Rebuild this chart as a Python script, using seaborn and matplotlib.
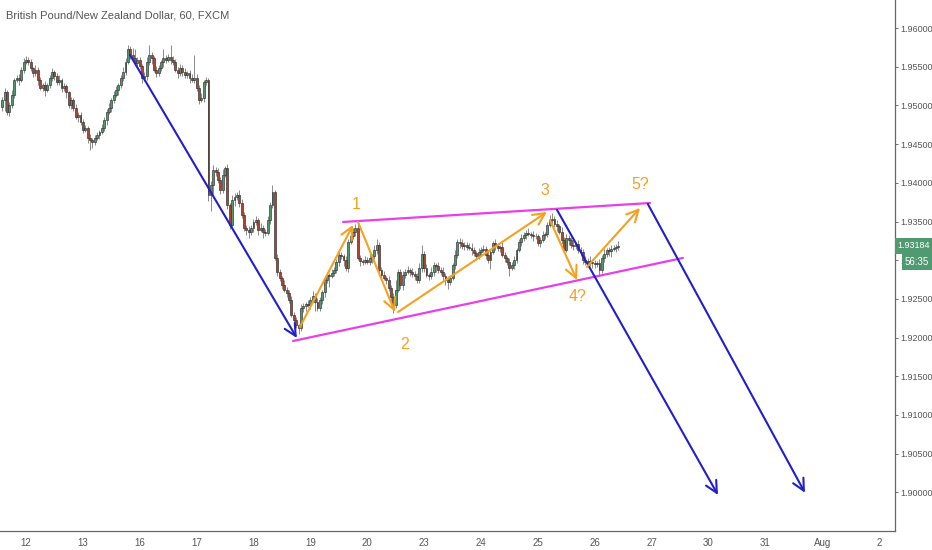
import numpy as np
import pandas as pd
import matplotlib
matplotlib.use('Agg')
import matplotlib.pyplot as plt
import matplotlib.transforms as mtransforms
import seaborn as sns

# hourly closes, GBP/NZD (FXCM)
pre_closes = [1.9507, 1.9517, 1.9492, 1.9500, 1.9514, 1.9533, 1.9535, 1.9533, 1.9546, 1.9556]
closes_12 = [1.9559, 1.9556, 1.9548, 1.9542, 1.9546, 1.9533, 1.9523, 1.9526, 1.9520, 1.9526, 1.9535, 1.9543,
             1.9538, 1.9530, 1.9533, 1.9523, 1.9525, 1.9517, 1.9500, 1.9507, 1.9497, 1.9485, 1.9488, 1.9479]
closes_13 = [1.9468, 1.9471, 1.9458, 1.9455, 1.9453, 1.9458, 1.9462, 1.9466, 1.9471, 1.9481, 1.9492, 1.9497,
             1.9507, 1.9514, 1.9520, 1.9526, 1.9535, 1.9543, 1.9556, 1.9573, 1.9565, 1.9561, 1.9555, 1.9559]
closes_16 = [1.9551, 1.9535, 1.9538, 1.9556, 1.9565, 1.9561, 1.9546, 1.9542, 1.9548, 1.9556, 1.9561, 1.9559,
             1.9563, 1.9559, 1.9556, 1.9546, 1.9542, 1.9548, 1.9543, 1.9539, 1.9542, 1.9535, 1.9533, 1.9535]
closes_17 = [1.9523, 1.9507, 1.9510, 1.9530, 1.9533, 1.9384, 1.9397, 1.9417, 1.9414, 1.9404, 1.9391, 1.9410,
             1.9419, 1.9371, 1.9346, 1.9378, 1.9382, 1.9384, 1.9374, 1.9358, 1.9342, 1.9339, 1.9337, 1.9342]
closes_18 = [1.9349, 1.9352, 1.9339, 1.9342, 1.9337, 1.9335, 1.9352, 1.9371, 1.9388, 1.9303, 1.9285, 1.9277,
             1.9268, 1.9262, 1.9258, 1.9249, 1.9229, 1.9223, 1.9216, 1.9212, 1.9238, 1.9241, 1.9243, 1.9242]
closes_19 = [1.9249, 1.9254, 1.9246, 1.9238, 1.9249, 1.9259, 1.9274, 1.9281, 1.9280, 1.9284, 1.9287, 1.9298,
             1.9307, 1.9305, 1.9300, 1.9290, 1.9324, 1.9331, 1.9337, 1.9342, 1.9303, 1.9299, 1.9298, 1.9300]
closes_20 = [1.9298, 1.9303, 1.9305, 1.9313, 1.9320, 1.9287, 1.9281, 1.9277, 1.9274, 1.9264, 1.9253, 1.9242,
             1.9262, 1.9285, 1.9268, 1.9281, 1.9285, 1.9287, 1.9285, 1.9282, 1.9280, 1.9274, 1.9290, 1.9308]
closes_23 = [1.9290, 1.9281, 1.9280, 1.9285, 1.9294, 1.9293, 1.9287, 1.9285, 1.9280, 1.9274, 1.9272, 1.9277,
             1.9294, 1.9307, 1.9324, 1.9322, 1.9318, 1.9320, 1.9317, 1.9316, 1.9313, 1.9309, 1.9305, 1.9311]
closes_24 = [1.9313, 1.9315, 1.9307, 1.9300, 1.9311, 1.9322, 1.9318, 1.9316, 1.9317, 1.9307, 1.9303, 1.9298,
             1.9290, 1.9294, 1.9300, 1.9313, 1.9324, 1.9329, 1.9333, 1.9335, 1.9334, 1.9333, 1.9331, 1.9331]
closes_25 = [1.9322, 1.9326, 1.9333, 1.9334, 1.9346, 1.9352, 1.9353, 1.9347, 1.9344, 1.9337, 1.9326, 1.9313,
             1.9329, 1.9326, 1.9320, 1.9318, 1.9321, 1.9313, 1.9311, 1.9300, 1.9298, 1.9299, 1.9298, 1.9296]
closes_26 = [1.9295, 1.9296, 1.9287, 1.9303, 1.9308, 1.9313, 1.9312, 1.9315, 1.9316, 1.9317, 1.93184]
first_open = 1.9498

# wick lengths above / below the body, in pips
upper_wick = [4, 6, 3, 5, 6, 3, 4, 5, 4, 5,
              5, 3, 4, 2, 6, 3, 4, 3, 5, 3, 4, 5, 3, 4, 6, 3, 4, 3, 2, 4, 3, 5, 3, 4,
              3, 4, 2, 5, 3, 4, 3, 2, 5, 4, 3, 6, 3, 4, 5, 3, 4, 6, 5, 5, 4, 9, 12, 4,
              4, 3, 5, 6, 13, 4, 3, 5, 4, 3, 12, 4, 3, 15, 5, 4, 3, 6, 4, 5, 3, 4, 6, 30,
              5, 4, 6, 3, 4, 2, 5, 6, 4, 5, 4, 8, 3, 5, 3, 6, 5, 4, 7, 5, 4, 3, 5, 4,
              4, 5, 3, 6, 4, 3, 5, 4, 9, 3, 5, 4, 3, 6, 4, 3, 5, 4, 3, 2, 6, 4, 3, 5,
              4, 6, 3, 5, 4, 3, 6, 4, 3, 5, 4, 3, 6, 4, 3, 5, 4, 3, 4, 5, 10, 4, 3, 6,
              4, 5, 3, 6, 8, 3, 4, 5, 3, 6, 4, 5, 12, 4, 3, 5, 4, 6, 3, 5, 4, 3, 6, 12,
              4, 5, 3, 6, 4, 3, 5, 4, 6, 3, 5, 4, 3, 6, 4, 5, 6, 3, 4, 5, 6, 4, 3, 5,
              4, 5, 3, 6, 4, 3, 5, 4, 3, 6, 4, 3, 5, 4, 6, 3, 4, 5, 3, 4, 6, 3, 5, 4,
              3, 4, 5, 3, 4, 6, 8, 4, 5, 3, 6, 4, 5, 3, 4, 6, 3, 5, 4, 3, 5, 4, 6, 3,
              4, 3, 5, 4, 6, 3, 4, 5, 3, 4, 6]
lower_wick = [5, 14, 4, 6, 3, 4, 3, 6, 3, 4,
              3, 4, 3, 5, 4, 6, 3, 4, 8, 3, 4, 3, 5, 4, 3, 6, 4, 8, 3, 5, 4, 3, 6, 4,
              4, 3, 6, 12, 8, 4, 3, 5, 3, 4, 6, 3, 5, 4, 3, 6, 4, 3, 4, 3, 5, 4, 3, 6,
              4, 6, 3, 5, 4, 8, 3, 5, 4, 3, 6, 4, 3, 5, 4, 3, 6, 4, 5, 3, 4, 6, 3, 4,
              4, 5, 3, 6, 3, 8, 20, 12, 5, 4, 6, 4, 3, 5, 6, 3, 8, 4, 5, 3, 4, 6, 8, 5,
              5, 4, 6, 3, 8, 4, 3, 5, 4, 3, 6, 4, 5, 3, 6, 4, 3, 5, 3, 8, 4, 5, 6, 3,
              5, 3, 12, 4, 3, 5, 6, 4, 14, 3, 5, 4, 6, 3, 8, 4, 5, 3, 4, 6, 3, 7, 4, 3,
              3, 4, 6, 3, 5, 8, 4, 3, 5, 4, 6, 10, 4, 3, 5, 6, 4, 3, 5, 4, 6, 3, 4, 5,
              5, 3, 6, 4, 5, 8, 3, 4, 5, 6, 9, 4, 3, 5, 4, 6, 3, 5, 4, 3, 6, 4, 5, 3,
              6, 3, 5, 4, 12, 3, 5, 4, 6, 3, 5, 4, 10, 3, 5, 4, 3, 6, 4, 5, 3, 4, 6, 3,
              4, 5, 3, 6, 4, 3, 5, 4, 6, 3, 5, 4, 3, 6, 4, 5, 3, 4, 6, 5, 4, 3, 5, 6,
              5, 4, 6, 3, 5, 4, 6, 8, 3, 5, 4]

day_labels = ['12', '13', '16', '17', '18', '19', '20', '23', '24', '25', '26', '27', '30', '31', 'Aug', '2']
price_ticks = [1.900, 1.905, 1.910, 1.915, 1.920, 1.925, 1.930, 1.935, 1.940, 1.945, 1.950, 1.955, 1.960]

# drawings on the chart: (bar, price) pairs, bar 0 = first hour of the 12th
wedge_top = [(133.8, 1.93494), (263.3, 1.93739)]
wedge_bottom = [(112.7, 1.91956), (277.2, 1.93029)]
blue_arrows = [[(43.9, 1.95651), (114.3, 1.91995)],
               [(224.1, 1.93649), (292.0, 1.89967)],
               [(262.4, 1.93726), (328.7, 1.89995)]]
wave_arrows = [[(115.6, 1.92137), (138.0, 1.93455)],
               [(140.1, 1.93494), (155.7, 1.92331)],
               [(157.0, 1.92331), (219.8, 1.93623)],
               [(221.1, 1.93520), (232.5, 1.92744)],
               [(236.7, 1.92912), (259.1, 1.93675)]]
wave_labels = [('1', 139.2, 1.93714), ('2', 159.9, 1.91905), ('3', 219.0, 1.93907),
               ('4?', 232.9, 1.92525), ('5?', 259.1, 1.93972)]

last_price = '1.93184'
countdown = '56:35'

# build candles
closes = np.array(pre_closes + closes_12 + closes_13 + closes_16 + closes_17 + closes_18 + closes_19
                  + closes_20 + closes_23 + closes_24 + closes_25 + closes_26)
opens = np.concatenate([[first_open], closes[:-1]])
bars = np.arange(len(closes)) - len(pre_closes)
df = pd.DataFrame({'bar': bars, 'open': opens, 'close': closes})
df['high'] = df[['open', 'close']].max(axis=1) + np.array(upper_wick) * 0.0001
df['low'] = df[['open', 'close']].min(axis=1) - np.array(lower_wick) * 0.0001
df['up'] = df['close'] >= df['open']

sns.set_theme(style='white')
plt.rcParams['font.family'] = ['Liberation Sans', 'DejaVu Sans']

fig = plt.figure(figsize=(9.32, 5.5), dpi=100)
ax = fig.add_axes([0, 19 / 550, 895 / 932, 531 / 550])

up_col, down_col = '#4f9a70', '#b0412e'
ax.vlines(df['bar'], df['low'], df['high'], color='#8a8a8a', lw=0.7, zorder=1)
body = (df['close'] - df['open']).abs().clip(lower=0.00004)
ax.bar(df['bar'], body, bottom=df[['open', 'close']].min(axis=1), width=0.8,
       color=np.where(df['up'], up_col, down_col), edgecolor='#2e2e2e', linewidth=0.45, zorder=2)

# wedge lines
for line in [wedge_top, wedge_bottom]:
    sns.lineplot(x=[p[0] for p in line], y=[p[1] for p in line], color='#e83fe8', lw=1.6, ax=ax, zorder=3)

for (x0, y0), (x1, y1) in blue_arrows:
    ax.annotate('', xy=(x1, y1), xytext=(x0, y0),
                arrowprops=dict(arrowstyle='->,head_length=0.7,head_width=0.35', color='#1f1fcc', lw=1.5,
                                shrinkA=0, shrinkB=0), zorder=4)

for (x0, y0), (x1, y1) in wave_arrows:
    ax.annotate('', xy=(x1, y1), xytext=(x0, y0),
                arrowprops=dict(arrowstyle='->,head_length=0.7,head_width=0.35', color='#f5a020', lw=1.5,
                                shrinkA=0, shrinkB=0), zorder=4)

for txt, x, y in wave_labels:
    ax.text(x, y, txt, color='#f5a020', fontsize=11.5, ha='center', va='center', zorder=5)

ax.set_xlim(-10.97, 366.7)
ax.set_ylim(1.89501, 1.96362)

ax.set_xticks(np.arange(len(day_labels)) * 24)
ax.set_xticklabels(day_labels)
ax.set_yticks(price_ticks)
ax.set_yticklabels(['%.5f' % p for p in price_ticks])
ax.yaxis.tick_right()
ax.tick_params(axis='x', labelsize=7, colors='#555555', length=3, width=0.6, pad=2)
ax.tick_params(axis='y', labelsize=6.5, colors='#555555', length=2.5, width=0.6, pad=1,
               right=True, left=False)

for side in ['left', 'top']:
    ax.spines[side].set_visible(False)
for side in ['right', 'bottom']:
    ax.spines[side].set_color('#666666')
    ax.spines[side].set_linewidth(0.9)

trans = mtransforms.blended_transform_factory(ax.transAxes, ax.transData)
ax.text(1.003, float(last_price), last_price, transform=trans, ha='left', va='center', fontsize=6.5,
        color='white', zorder=10, clip_on=False,
        bbox=dict(boxstyle='square,pad=0.35', fc='#4f9a70', ec='none'))
ax.text(1.011, 1.92977, countdown, transform=trans, ha='left', va='center', fontsize=7,
        color='white', zorder=10, clip_on=False,
        bbox=dict(boxstyle='square,pad=0.3', fc='#4f9a70', ec='none'))

fig.text(6 / 932, 1 - 16 / 550, 'British Pound/New Zealand Dollar, 60, FXCM', fontsize=8,
         color='#555555', ha='left', va='center')

fig.savefig('out.png', dpi=100, facecolor='white')
